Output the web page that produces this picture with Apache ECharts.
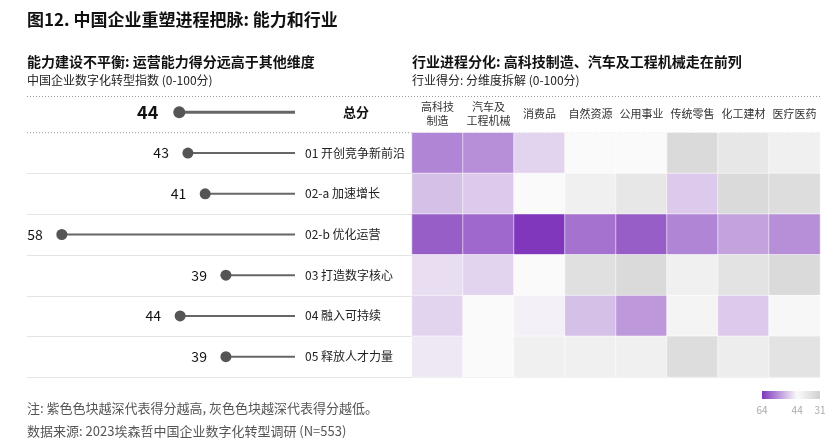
<!DOCTYPE html>
<html><head><meta charset="utf-8">
<script src="https://cdn.jsdelivr.net/npm/echarts@6/dist/echarts.min.js"></script>
<style>html,body{margin:0;padding:0;background:#fff}#c{width:838px;height:447px}</style>
</head><body><div id="c"></div>
<script>
// ---- data ----
const dimensions = ['总分','01 开创竞争新前沿','02-a 加速增长','02-b 优化运营','03 打造数字核心','04 融入可持续','05 释放人才力量'];
const dimensionScores = [44.4, 43.4, 41.4, 58, 39, 44.3, 39];
const industries = ['高科技\n制造','汽车及\n工程机械','消费品','自然资源','公用事业','传统零售','化工建材','医疗医药'];
const heatRows = ['01 开创竞争新前沿','02-a 加速增长','02-b 优化运营','03 打造数字核心','04 融入可持续','05 释放人才力量'];
const row01  = [56, 55, 48, 44, 44, 34, 38, 41];
const row02a = [50, 49, 44, 41, 38, 49, 34, 35];
const row02b = [60, 59, 64, 58, 60, 56, 53, 55];
const row03  = [47, 48, 44, 36, 34, 41, 37, 34];
const row04  = [48, 44, 45, 50, 54, 42, 49, 43];
const row05  = [46, 44, 41, 41, 41, 35, 40, 37];
const legendTicks = [64, 44, 31];
const scaleMin = 31, scaleMid = 44, scaleMax = 64;

const FONT = '"Noto Sans CJK SC","Noto Sans",sans-serif';
const grayC = [208,208,208], whiteC = [250,250,250], purpleC = [128,55,188];
function mix(a,b,t){return 'rgb('+a.map((x,i)=>Math.round(x+(b[i]-x)*t)).join(',')+')';}
function colorOf(v){
  if (v <= scaleMid) return mix(grayC, whiteC, (v-scaleMin)/(scaleMid-scaleMin));
  return mix(whiteC, purpleC, (v-scaleMid)/(scaleMax-scaleMid));
}
const stops = [];
for (let v = scaleMin; v <= scaleMax; v++) stops.push(colorOf(v));

const heatData = [];
[row01,row02a,row02b,row03,row04,row05].forEach((r,ri)=>r.forEach((v,ci)=>heatData.push([ci,ri,v])));

const lollipopData = dimensionScores.map((v,i)=>[v,i]);

// layout
const L = 27, R = 820;
const gTop = 92, gBottom = 70, rowH = (447 - gTop - gBottom) / dimensions.length;
const graphics = [];
function txt(x,y,t,font,fill,align){graphics.push({type:'text',x:x,y:y,style:{text:t,font:font,fill:fill,align:align||'left',verticalAlign:'middle'}});}
txt(L,20,'图12. 中国企业重塑进程把脉: 能力和行业','bold 17px '+FONT,'#111');
txt(L,62,'能力建设不平衡: 运营能力得分远高于其他维度','bold 14px '+FONT,'#111');
txt(L,80,'中国企业数字化转型指数 (0-100分)','12px '+FONT,'#222');
txt(412,62,'行业进程分化: 高科技制造、汽车及工程机械走在前列','bold 14px '+FONT,'#111');
txt(412,80,'行业得分: 分维度拆解 (0-100分)','12px '+FONT,'#222');
txt(L,408,'注: 紫色色块越深代表得分越高, 灰色色块越深代表得分越低。','13px '+FONT,'#555');
txt(L,431,'数据来源: 2023埃森哲中国企业数字化转型调研 (N=553)','13px '+FONT,'#555');
// separators
[96.5, gTop + rowH].forEach(y=>graphics.push({type:'line',shape:{x1:L,y1:y,x2:R,y2:y},style:{stroke:'#999',lineWidth:1,lineDash:[1,2]}}));
for (let i = 2; i <= dimensions.length; i++) {
  const y = Math.round(gTop + rowH*i) + 0.5;
  graphics.push({type:'line',shape:{x1:L,y1:y,x2:R,y2:y},style:{stroke:'#e4e4e4',lineWidth:1}});
}
// legend
const lgX = 762, lgW = 58, lgY = 391, lgH = 8;
const pos = v => lgX + (scaleMax - v)/(scaleMax-scaleMin)*lgW;
graphics.push({type:'rect',shape:{x:lgX,y:lgY,width:lgW,height:lgH},style:{fill:new echarts.graphic.LinearGradient(0,0,1,0,[
  {offset:0,color:colorOf(scaleMax)},{offset:(scaleMax-scaleMid)/(scaleMax-scaleMin),color:colorOf(scaleMid)},{offset:1,color:colorOf(scaleMin)}])}});
legendTicks.forEach(v=>txt(pos(v),410,String(v),'10px '+FONT,'#aaa','center'));

const chart = echarts.init(document.getElementById('c'));
chart.setOption({
  animation:false,
  graphic: graphics,
  grid: [
    {left:10, right:838-295, top:gTop, bottom:gBottom},
    {left:412, right:838-R, top:gTop+rowH, bottom:gBottom}
  ],
  xAxis: [
    {gridIndex:0, type:'value', min:scaleMin, max:scaleMax, inverse:true, show:false},
    {gridIndex:1, type:'category', data:industries, position:'top',
     axisLine:{show:false}, axisTick:{show:false},
     axisLabel:{interval:0, margin:19, verticalAlign:'middle', fontSize:11, lineHeight:14, color:'#333', fontFamily:FONT}}
  ],
  yAxis: [
    {gridIndex:0, type:'category', data:dimensions, inverse:true, position:'right',
     axisLine:{show:false}, axisTick:{show:false}, splitLine:{show:false},
     axisLabel:{margin:10, align:'left', fontSize:12, color:'#222', fontFamily:FONT,
       formatter:(v,i)=> i===0 ? '{b|'+v+'}' : v,
       rich:{b:{fontWeight:'bold', fontSize:13, color:'#111', padding:[0,0,0,38], fontFamily:FONT}}}},
    {gridIndex:1, type:'category', data:heatRows, inverse:true, show:false}
  ],
  visualMap: {show:false, type:'continuous', min:scaleMin, max:scaleMax, seriesIndex:1, inRange:{color:stops}},
  series: [
    {type:'custom', xAxisIndex:0, yAxisIndex:0, data:lollipopData,
     renderItem:function(params, api){
       const v = api.value(0), idx = api.value(1);
       const p = api.coord([v, idx]), p0 = api.coord([scaleMin, idx]);
       const bold = idx === 0;
       return {type:'group', children:[
         {type:'line', shape:{x1:p[0],y1:p[1],x2:p0[0],y2:p0[1]}, style:{stroke:'#666',lineWidth:bold?3:2}},
         {type:'circle', shape:{cx:p[0],cy:p[1],r:bold?6:5.5}, style:{fill:'#555'}},
         {type:'text', x:p[0]-(bold?21:19), y:p[1], style:{text:String(Math.round(v)), align:'right', verticalAlign:'middle',
           font:(bold?'bold 18px ':'14px ')+FONT, fill:'#111'}}
       ]};
     }},
    {type:'heatmap', xAxisIndex:1, yAxisIndex:1, data:heatData,
     itemStyle:{borderColor:'rgba(255,255,255,0.55)', borderWidth:1},
     emphasis:{disabled:true}}
  ]
});
</script></body></html>
